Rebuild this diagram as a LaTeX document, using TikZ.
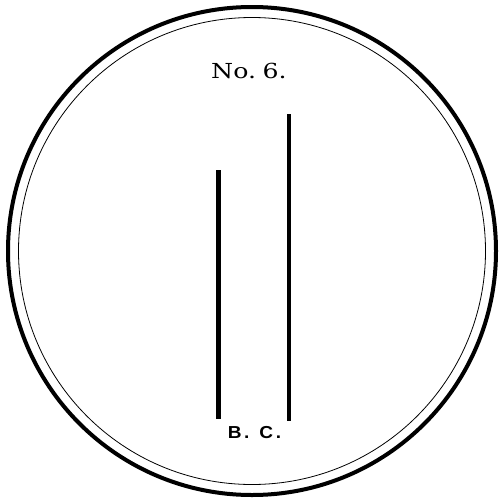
\documentclass[tikz,border=0pt]{standalone}
\usepackage{fontspec}
\newfontfamily\platefont[FakeStretch=1.22]{DejaVu Serif}
\newfontfamily\markfont[FakeStretch=1.1]{Liberation Sans}

\tikzset{every picture/.style={line width=0.75pt}}

\begin{document}
\begin{tikzpicture}[x=0.75pt,y=0.75pt,yscale=-1,xscale=1]
\path[use as bounding box] (0,0) rectangle (499,500); %set diagram to 499 x 500

%Shape: Circle [outer rim]
\draw  [line width=3pt]  (252,251) circle (244) ;
%Shape: Circle [inner rim]
\draw  [line width=0.6pt]  (252,251) circle (233.5) ;
%Straight Lines [short bar]
\draw  [line width=3.4pt]  (218.5,170) -- (218.5,419) ;
%Straight Lines [long bar]
\draw  [line width=3.4pt]  (289,114) -- (289,421) ;

% Text Node
\draw (249,71) node (title) [inner sep=0.75pt]  [font=\platefont\fontsize{15.5}{18}\selectfont] [align=left] {No.\kern5pt 6.};
% Text Node
\draw (254.5,433) node (mark) [inner sep=0.75pt]  [font=\markfont\bfseries\fontsize{13}{15}\selectfont] [align=left] {B\kern2pt.\kern7.5pt C\kern2pt.};
\end{tikzpicture}
\end{document}
